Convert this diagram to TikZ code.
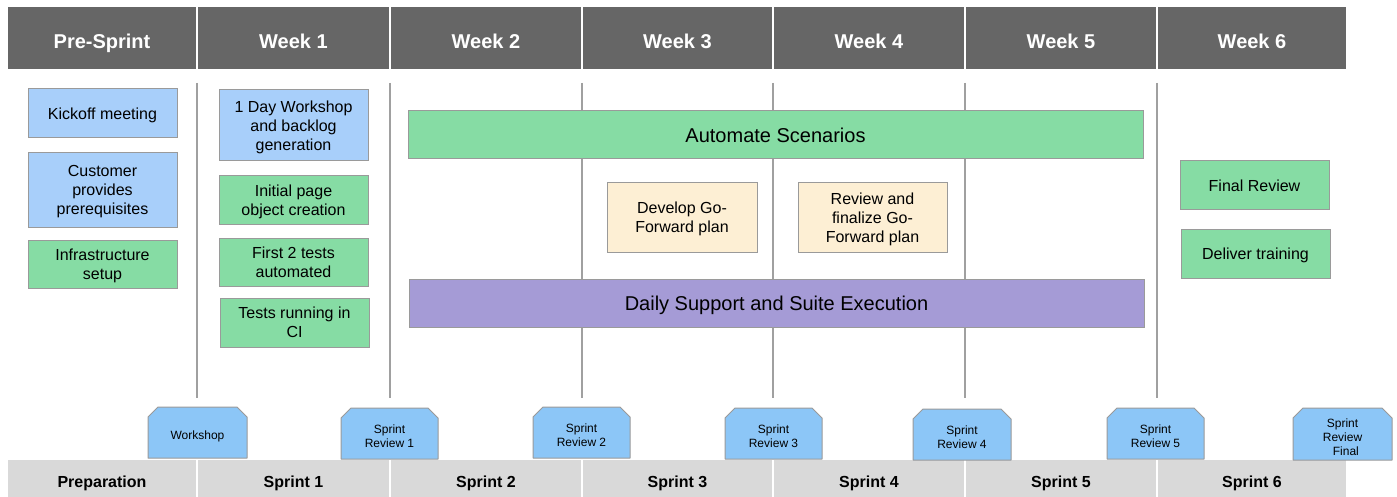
\documentclass[tikz,border=0pt]{standalone}
\usepackage{fontspec}
\setmainfont{Liberation Sans}
\definecolor{hdr}{HTML}{666666}
\definecolor{ftr}{HTML}{D9D9D9}
\definecolor{bluebox}{HTML}{A8CFFA}
\definecolor{greenbox}{HTML}{86DCA4}
\definecolor{peach}{HTML}{FDEFD4}
\definecolor{purp}{HTML}{A59BD6}
\definecolor{mile}{HTML}{8CC6F7}
\definecolor{edge}{HTML}{9A9A9A}
\definecolor{vline}{HTML}{A0A0A0}
\tikzset{
  cell/.style={fill=#1, draw=white, line width=1.5pt},
  hdrtext/.style={text=white, text depth=0pt, font=\fontsize{20}{23}\selectfont\bfseries},
  ftrtext/.style={text=black, text depth=0pt, font=\fontsize{16}{19}\selectfont\bfseries},
  task/.style={fill=#1, draw=edge, line width=1pt, align=center, inner sep=0pt,
    text depth=0pt, font=\fontsize{16}{19}\selectfont},
  bigtask/.style={task=#1, font=\fontsize{20}{23}\selectfont},
  mshape/.style={fill=mile, draw=edge, line width=1pt, line join=round},
  mtext/.style={align=center, inner sep=0pt, text depth=0pt,
    font=\fontsize{12}{14}\selectfont},
  sep/.style={draw=vline, line width=1.5pt},
}
\newcommand\bx[7]{\node[#1, minimum width={(#5-#3)*1pt}, minimum height={(#6-#4)*1pt}]
  (#2) at ({(#3+#5)/2},{(#4+#6)/2}) {#7};}
\newcommand\ms[6]{%
  \draw[mshape] (#2,#5) -- (#2,#3+10) -- (#2+10,#3) -- (#4-10,#3) -- (#4,#3+10) -- (#4,#5) -- cycle;
  \node[mtext] (#1) at ({(#2+#4)/2},{(#3+#5)/2+3}) {#6};}
\begin{document}
\begin{tikzpicture}[x=1pt,y=-1pt]
\useasboundingbox[fill=white] (0,0) rectangle (1397,497);
% vertical separators
\foreach \x/\n in {197/a,390/b,582/c,773/d,965/e,1157/f}{
  \coordinate (t\n) at (\x,83);
  \coordinate (b\n) at (\x,398);
  \draw[sep] (t\n) -- (b\n);
}
% header
\foreach \xa/\xb/\t/\n in {7/197/Pre-Sprint/h0,197/390/Week 1/h1,390/582/Week 2/h2,582/773/Week 3/h3,773/965/Week 4/h4,965/1157/Week 5/h5,1157/1347/Week 6/h6}{
  \draw[cell=hdr] (\xa,6) rectangle (\xb,70);
  \node[hdrtext] (\n) at ({(\xa+\xb)/2},41) {\t};
}
% footer
\foreach \xa/\xb/\t/\n in {7/197/Preparation/f0,197/390/Sprint 1/f1,390/582/Sprint 2/f2,582/773/Sprint 3/f3,773/965/Sprint 4/f4,965/1157/Sprint 5/f5,1157/1347/Sprint 6/f6}{
  \draw[cell=ftr] (\xa,459) rectangle (\xb,498);
  \node[ftrtext] (\n) at ({(\xa+\xb)/2},482) {\t};
}
% pre-sprint
\bx{task=bluebox}{kick}{28}{89}{177}{138}{Kickoff meeting}
\bx{task=bluebox}{cust}{28}{153}{177}{227}{Customer\\provides\\prerequisites}
\bx{task=greenbox}{infra}{28}{240}{177}{288}{Infrastructure\\setup}
% week 1
\bx{task=bluebox}{wksh}{219}{90}{368}{161}{1 Day Workshop\\and backlog\\generation}
\bx{task=greenbox}{init}{219}{176}{368}{224}{Initial page\\object creation}
\bx{task=greenbox}{first}{219}{238}{368}{286}{First 2 tests\\automated}
\bx{task=greenbox}{ci}{220}{298}{369}{347}{Tests running in\\CI}
% middle
\bx{bigtask=greenbox}{auto}{408}{111}{1143}{159}{Automate Scenarios}
\bx{task=peach}{dev}{607}{183}{757}{252}{Develop Go-\\Forward plan}
\bx{task=peach}{rev}{798}{183}{947}{252}{Review and\\finalize Go-\\Forward plan}
\bx{bigtask=purp}{daily}{409}{279}{1144}{327}{Daily Support and Suite Execution}
% week 6
\bx{task=greenbox}{final}{1180}{161}{1329}{210}{Final Review}
\bx{task=greenbox}{train}{1181}{229}{1330}{278}{Deliver training}
% milestones
\ms{m0}{148}{407}{247}{458}{Workshop}
\ms{m1}{341}{408}{438}{459}{Sprint\\Review 1}
\ms{m2}{533}{407}{630}{458}{Sprint\\Review 2}
\ms{m3}{725}{408}{822}{459}{Sprint\\Review 3}
\ms{m4}{913}{409}{1011}{460}{Sprint\\Review 4}
\ms{m5}{1107}{408}{1204}{459}{Sprint\\Review 5}
\ms{m6}{1293}{408}{1392}{460}{Sprint\\Review\\\ \ Final}
\end{tikzpicture}
\end{document}
